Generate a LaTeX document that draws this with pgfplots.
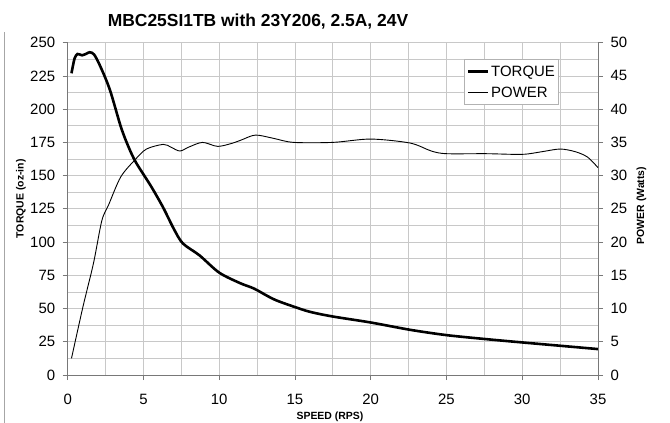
\documentclass[border=0pt]{standalone}
\usepackage{pgfplots}
\pgfplotsset{compat=1.18}
\usepackage{fontspec}
\setmainfont{Liberation Sans}

\definecolor{gridgray}{RGB}{200,200,200}
\definecolor{axisgray}{RGB}{120,120,120}

% torque (oz-in) vs speed (rps)
\pgfplotstableread{
x y
0.25 227
0.45 238
0.65 241.5
0.95 240.5
1.2 241.5
1.45 242.8
1.75 241
2.2 231
2.8 214
3.5 187
4.0 172
4.5 160
5.5 142
6.3 126
7.0 110
7.6 99
8.7 90
10.0 77
11.4 69
12.3 65
13.6 57
14.9 51.5
16.0 47.5
17.5 44
20.0 39.5
22.6 34
25.0 30
27.6 27
30.0 24.5
32.5 22
35.0 19.5
}\torque

% power (W) vs speed (rps)
\pgfplotstableread{
x y
0.25 2.5
1.0 10.2
1.7 16.8
2.25 23.2
2.7 25.6
3.5 29.8
4.45 32.4
5.2 34.0
6.3 34.7
6.8 34.3
7.4 33.7
8.0 34.3
8.9 35.0
9.9 34.4
10.9 34.9
11.5 35.4
12.4 36.1
13.6 35.6
14.9 35.0
17.5 35.0
20.0 35.5
22.6 34.9
24.0 33.7
25.0 33.3
27.6 33.3
30.0 33.2
31.3 33.6
32.5 34.0
33.5 33.6
34.3 32.8
35.0 31.2
}\power

\pgfplotsset{
  common/.style={
    at={(67.7bp,48bp)}, anchor=south west,
    scale only axis, width=530.3bp, height=332.3bp,
    xmin=0, xmax=35,
    tick align=outside,
    major tick length=5bp,
    minor tick length=0pt,
    tick style={axisgray, line width=0.8bp},
    axis line style={axisgray, line width=0.8bp},
    ticklabel style={font=\fontsize{15}{15}\selectfont},
    /pgf/number format/assume math mode=true,
    label style={font=\bfseries\fontsize{10.5}{10.5}\selectfont},
  },
}

\begin{document}
\begin{tikzpicture}
\path[use as bounding box] (0,0) rectangle (670bp,423bp);
\draw[gray!70, line width=0.8bp] (4.5bp,0) -- (4.5bp,391bp);

\begin{axis}[common,
  axis x line*=bottom, axis y line*=left,
  ymin=0, ymax=250,
  xtick={0,5,...,35}, minor x tick num=1,
  ytick={0,25,...,250}, minor y tick num=1,
  xticklabel style={yshift=-11bp},
  yticklabel style={xshift=-4bp},
  grid=both,
  major grid style={gridgray, line width=0.8bp},
  minor grid style={gridgray, line width=0.8bp},
  xlabel={SPEED (RPS)},
  xlabel style={at={(0.4946,-0.125)}, anchor=center},
  ylabel={TORQUE (oz-in)},
  ylabel style={at={(-0.088,0.53)}, anchor=center},
]
\addplot[black, line width=2.6bp, smooth] table {\torque};
\end{axis}

\begin{axis}[common,
  axis x line=none, axis y line*=right,
  ymin=0, ymax=50,
  ytick={0,5,...,50},
  yticklabel style={xshift=4bp},
  ylabel={POWER (Watts)},
  ylabel style={at={(1.082,0.51)}, anchor=center, rotate=0},
  legend style={at={(0.927,0.950)}, anchor=north east,
    draw=gray!60, fill=white, line width=0.8bp,
    font=\fontsize{15}{15}\selectfont,
    inner xsep=2bp, inner ysep=4bp, row sep=5bp},
  legend cell align=left,
  legend image code/.code={\draw[#1] (0bp,0bp) -- (20bp,0bp);},
]
\addlegendimage{black, line width=2.6bp}
\addlegendentry{TORQUE}
\addplot[black, line width=0.9bp, smooth] table {\power};
\addlegendentry{POWER}
\end{axis}

\node[font=\bfseries\fontsize{17.5}{17.5}\selectfont] at (258bp,401bp)
  {MBC25SI1TB with 23Y206, 2.5A, 24V};
\end{tikzpicture}
\end{document}
